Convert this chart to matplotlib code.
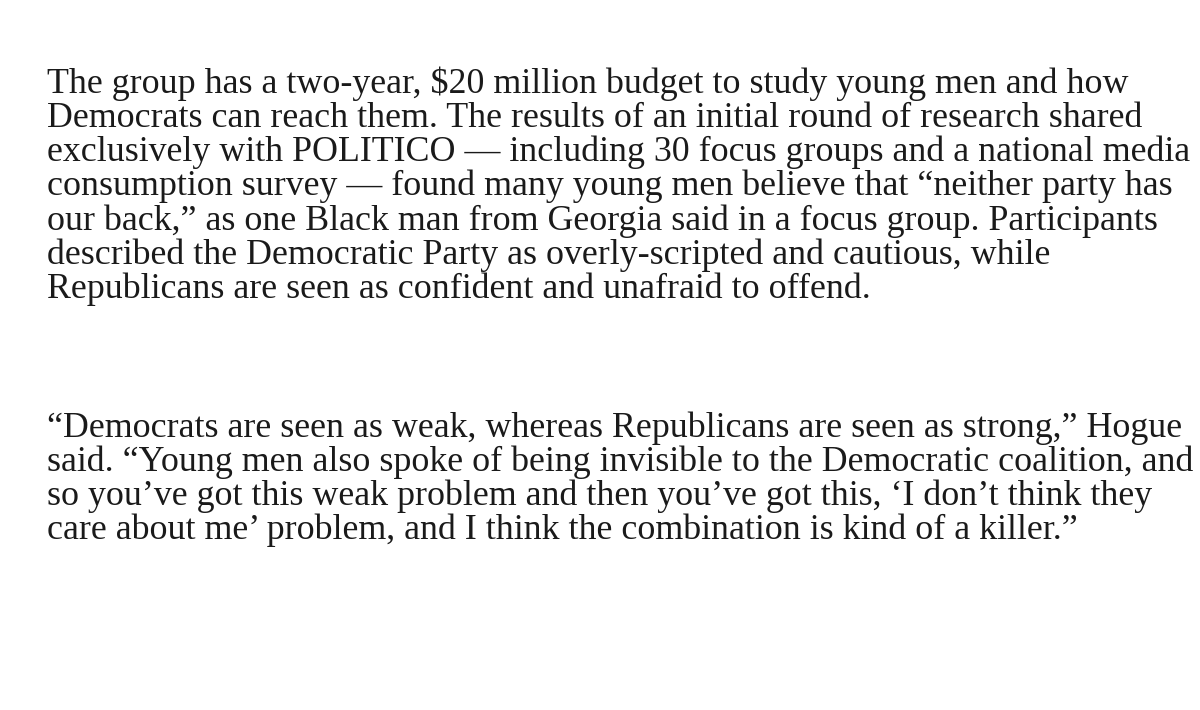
import matplotlib.pyplot as plt

para1 = [
    "The group has a two-year, $20 million budget to study young men and how",
    "Democrats can reach them. The results of an initial round of research shared",
    "exclusively with POLITICO \u2014 including 30 focus groups and a national media",
    "consumption survey \u2014 found many young men believe that \u201cneither party has",
    "our back,\u201d as one Black man from Georgia said in a focus group. Participants",
    "described the Democratic Party as overly-scripted and cautious, while",
    "Republicans are seen as confident and unafraid to offend.",
]
para2 = [
    "\u201cDemocrats are seen as weak, whereas Republicans are seen as strong,\u201d Hogue",
    "said. \u201cYoung men also spoke of being invisible to the Democratic coalition, and",
    "so you\u2019ve got this weak problem and then you\u2019ve got this, \u2018I don\u2019t think they",
    "care about me\u2019 problem, and I think the combination is kind of a killer.\u201d",
]

fig = plt.figure(figsize=(12, 7.1), dpi=100)
fig.patch.set_facecolor("white")
W, H = 1200, 710
x0 = 47
lh = 34.2

for i, line in enumerate(para1):
    y = 84 + i * lh
    fig.text(x0 / W, 1 - y / H, line, family="Liberation Serif", fontsize=25.8,
             color="#1a1a1a", va="center", ha="left")
for i, line in enumerate(para2):
    y = 428 + i * lh
    fig.text(x0 / W, 1 - y / H, line, family="Liberation Serif", fontsize=25.8,
             color="#1a1a1a", va="center", ha="left")

fig.savefig("out.png", dpi=100, facecolor="white")
